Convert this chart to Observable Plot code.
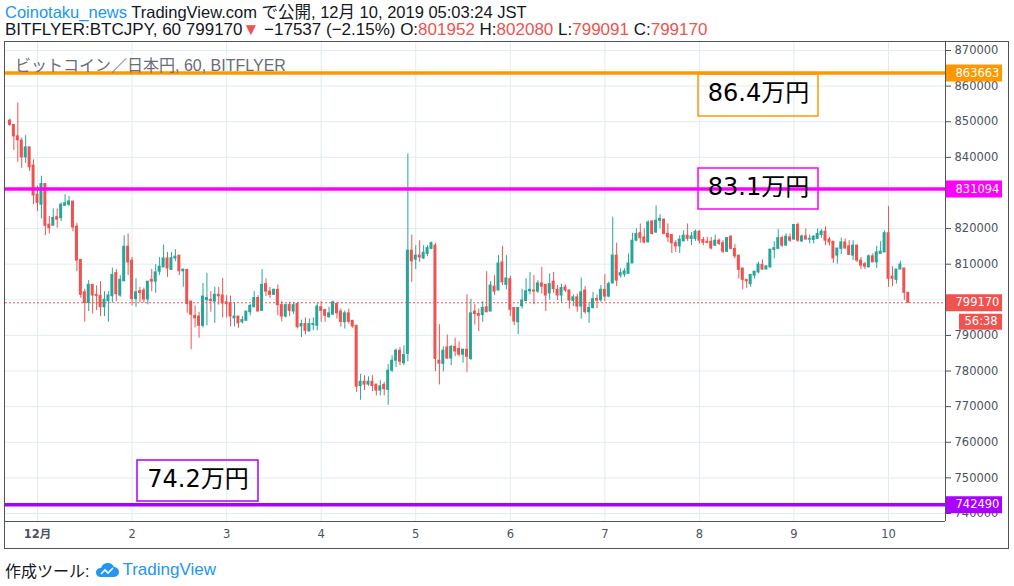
<!DOCTYPE html>
<html><head><meta charset="utf-8">
<script src="https://cdn.jsdelivr.net/npm/d3@7"></script>
<script src="https://cdn.jsdelivr.net/npm/@observablehq/plot@0.6"></script>
<style>
html,body{margin:0;padding:0;background:#fff;}
body{width:1014px;height:586px;position:relative;overflow:hidden;font-family:"Liberation Sans","Noto Sans CJK JP",sans-serif;color:#131722;}
#hdr{position:absolute;left:5px;top:3px;font-size:16.5px;line-height:18px;white-space:nowrap;}
#hdr .l2{font-size:17px;}
#hdr .blue{color:#2196f3;} #hdr .red{color:#ef5350;}
#chart{position:absolute;left:0;top:40px;}
#outer{position:absolute;left:4px;top:41px;width:1003px;height:506px;border:1px solid #50535e;pointer-events:none;}
#legend{position:absolute;left:15px;top:52px;font-size:16px;color:#6a6d78;white-space:nowrap;}
#footer{position:absolute;left:5px;top:558px;font-size:16px;white-space:nowrap;display:flex;align-items:center;}
#footer .tv{color:#2196f3;font-size:17px;margin-left:2px;}
</style></head>
<body>
<div id="hdr">
<div><span class="blue">Coinotaku_news</span> TradingView.com で公開, 12月 10, 2019 05:03:24 JST</div>
<div class="l2">BITFLYER:BTCJPY, 60 799170<span class="red">▼</span> −17537 (−2.15%) O:<span class="red">801952</span> H:<span class="red">802080</span> L:<span class="red">799091</span> C:<span class="red">799170</span></div>
</div>
<div id="chart"></div>
<div id="outer"></div>
<div id="legend">ビットコイン／日本円, 60, BITFLYER</div>
<div id="footer">作成ツール: <svg width="26" height="16" viewBox="0 0 26 16" style="margin-left:5px"><path d="M6 15 H20 A5 5 0 0 0 20 5 A7 7 0 0 0 7 6 A4.5 4.5 0 0 0 6 15 Z" fill="#2196f3"/><polyline points="7,12 11,8 14,11 19,6" fill="none" stroke="#fff" stroke-width="1.6"/></svg><span class="tv">TradingView</span></div>
<script>
// ---- data (BTC/JPY, bitFlyer, 60-minute candles, JST) ----
const firstCandle = Date.UTC(2019, 10, 30, 17); // 2019-11-30 17:00 JST (wall clock)
const open = [850300,849100,845900,844700,840000,842800,837700,829500,826700,832500,821100,820800,823200,822900,826400,826700,827600,820500,811200,802100,799100,804200,801400,801100,797900,799600,801000,807500,801200,805200,814900,811000,800200,802400,802600,800100,805600,805100,807900,809100,811600,808400,811600,812400,808000,808400,799500,795500,795300,792700,799900,800000,799500,801400,801200,799300,799100,794800,795300,793700,794100,796500,797900,800500,796900,804400,802300,801400,802800,798500,795300,798500,796700,798800,792500,793200,791100,792900,792700,797900,797100,795100,795800,798800,796700,793700,796200,794100,792700,775800,777000,776200,777000,776200,774500,776100,774700,780100,782900,785700,782200,784800,813800,811300,812400,811600,812900,814300,815200,782900,782000,786600,783500,786800,786200,784600,786000,783400,796700,796000,795700,797900,796700,803700,802600,810500,804200,805800,797700,793700,798200,799600,802400,802600,802300,804600,804200,801800,805100,802800,801200,803500,802600,799700,800700,798100,802600,796500,797700,800200,799900,802800,800900,804600,812400,806800,807100,807300,810200,816600,818700,817500,816100,822000,818900,822200,822500,818500,818200,815900,815000,816400,818000,817100,817100,819100,816800,816300,816300,815200,816600,815900,813500,817700,814300,812400,808800,805600,804400,806800,807700,809800,808500,809100,814000,814300,817300,815200,817500,816900,821000,816400,817800,816900,816800,817100,818200,819100,816900,816300,812400,814300,816100,815000,812400,815200,811000,810000,809100,812200,810500,812900,813300,818700,806500,805600,808500,808800,801952];
const high = [850800,849100,855300,845400,846100,842800,839300,831900,834700,832500,823400,825500,825500,827200,829500,829000,827600,821500,811200,803000,805400,804200,803900,805100,802300,802300,808900,808500,806800,818000,818500,811900,805900,803500,803300,805100,808500,809900,811900,815400,813300,813300,814100,812400,808500,808400,799500,798300,796500,804600,807400,802300,803500,803500,806000,801200,801000,799000,795300,795300,796700,798600,802300,801200,808500,805900,803500,803000,804200,799500,798800,799300,799300,799300,794300,794900,794600,794900,799000,799500,797400,797900,799600,799300,797400,796900,797400,794100,792700,779100,778700,778400,778700,776200,777300,776800,781800,784300,786200,786600,787100,841000,818200,815200,816600,815200,815200,816200,815900,793000,786800,790100,787100,789200,788200,786000,801400,800100,798600,797400,799500,807900,805100,806800,812400,815000,812400,806600,797700,797700,803000,805900,807700,806800,805400,809100,804200,807300,807700,804000,804400,804200,802800,801400,801600,806100,803700,799300,802100,801400,804000,807100,805000,823200,815900,808700,808700,812900,818700,819900,821300,819900,822200,822200,826400,823900,822700,821300,818200,816600,818000,819400,821300,818900,819600,819400,817500,817500,817500,818200,817100,816600,817500,818000,815500,812400,808800,805600,807000,807900,810600,811200,809400,814100,816300,819700,817900,818500,818500,821000,821600,818200,819900,818200,818000,819900,819700,820500,817500,816300,814400,817300,817100,816600,816600,815400,811900,810500,812600,812900,815000,816300,819400,826200,809300,808500,810800,808800,802080];
const low = [848700,841900,838600,836900,838300,836000,826700,824800,822700,818000,818500,820800,820100,822000,826400,826200,819100,807900,800400,793700,796700,796000,797000,795300,795300,793700,799100,799500,800700,805200,806800,798300,797900,799100,799100,798600,802300,801800,806800,809100,806300,808400,810700,806800,803500,796200,786000,792100,789200,792100,792700,796500,793400,798500,794900,794900,792400,792400,792000,793200,794100,795500,797900,796700,796900,800900,800400,801200,795500,793800,794900,795300,795800,791800,789400,790100,791100,791300,791300,793700,793700,794900,795800,794600,792300,791800,793200,792000,774000,771800,774500,775700,774200,773000,773000,773000,770400,779600,781000,781500,781500,782600,804900,808500,810500,811300,812100,814100,779800,776100,779800,783200,781500,784000,784000,782200,779600,782900,792900,791100,793700,796500,796700,801200,802600,804000,802800,795300,792700,790200,797400,799600,801400,798600,801800,801600,796700,799900,801800,799800,799300,802100,797400,798100,796500,794600,796000,793400,797400,797500,799300,799500,800600,804400,803700,806100,806300,807300,810200,816300,815900,815700,816100,818200,818700,819900,818200,816100,813000,813300,813000,816300,816400,815200,816400,815700,815200,815700,814000,814900,815200,813000,813300,814000,811500,805800,802800,803200,803500,805800,807300,808200,808500,808900,811500,814100,814700,815200,816100,816900,816100,816100,816900,815700,815700,817100,817300,815200,815100,810200,810000,812700,814300,812600,811000,810500,808500,808500,809100,810500,808800,812900,813300,803500,803700,804400,808500,799800,799091];
const close = [849100,845900,844800,840000,842800,837200,829300,827200,832500,820800,820100,823000,822500,826700,827100,827600,820300,811000,801400,799100,804200,801200,801100,797900,800000,801200,807000,801600,805600,814900,810500,800200,802100,801900,800100,805100,805100,807700,809300,811600,808800,811700,812100,808000,808500,798800,795800,794800,792700,800900,800500,799700,801400,801000,799000,798800,795300,795300,793400,794300,796700,798300,800500,796700,804200,802300,801400,802800,798500,795300,798500,796900,798500,792300,793200,791300,793200,793200,798100,796900,795500,796200,799300,796200,793800,796200,793800,792500,775600,777000,776200,777000,775800,774500,775700,774900,780100,782900,785700,782600,784500,813800,810800,812400,811900,813200,814500,815900,783400,782100,785700,783500,786800,785500,784600,786000,784000,796200,796000,795500,797700,796500,804000,802300,810200,804900,806000,797200,793900,797700,799800,802400,802800,802300,804600,803700,801200,804400,803000,801200,803300,802600,799800,800700,798100,802100,796500,797700,800200,799800,802800,800900,804400,812400,805400,807500,808000,810200,816600,818500,817300,816100,821700,818500,822200,822700,818500,817500,815900,815000,816900,818000,817100,817800,819100,816600,816000,816000,814400,816600,815700,813500,817300,814300,812200,808400,805600,805200,807000,807900,809900,808500,809400,814100,814500,817300,815200,817700,816600,821000,816600,817800,816900,817100,817700,818500,819100,816600,816100,811600,814400,816100,814400,812600,815200,811000,809600,809300,812200,810500,813300,813500,818700,805900,805900,808500,809900,801952,799170];

// horizontal support / resistance levels and their notes
const levelPrices = [863663, 831094, 742490];
const levelNotes = ["86.4万円", "83.1万円", "74.2万円"];
const lastPrice = 799170;
const countdown = "56:38";

// axis ticks (labels hidden by the price boxes are left out, as in the source)
const yTicks = d3.range(740000, 870001, 10000);
const yTickLabels = [740000, 750000, 760000, 770000, 780000, 790000, 810000, 820000, 840000, 850000, 860000, 870000];
const dayTicks = d3.range(1, 11).map(d => new Date(Date.UTC(2019, 11, d)));
const dayLabels = ["12月", "2", "3", "4", "5", "6", "7", "8", "9", "10"];

// ---- styles / layout ----
const UP = "#26a69a", DOWN = "#ef5350";
const levelColors = ["#ff9800", "#ff00ff", "#aa00ff"];
const H = 3600e3;
const D0 = Date.UTC(2019, 11, 1);
const xAt = px => new Date(D0 + ((px - 37) / 3.94) * H);          // page x -> time
const priceAt = py => 870000 - (py - 50) * 130000 / 463;          // page y -> price
const noteBoxes = [                                              // [x1,x2,y1,y2] in page px
  [698, 818, 74, 116], [698, 818, 168, 209], [137, 258, 460, 501]
];

const candles = open.map((o, i) => ({
  t: new Date(firstCandle + i * H), open: o, high: high[i], low: low[i], close: close[i]
}));
const col = d => d.close >= d.open ? UP : DOWN;

const levels = levelPrices.map((p, i) => ({p, note: levelNotes[i], c: levelColors[i], box: noteBoxes[i]}));

const chart = Plot.plot({
  width: 1014, height: 510,
  marginLeft: 5, marginRight: 69, marginTop: 2, marginBottom: 29,
  style: {fontFamily: "'DejaVu Sans','Noto Sans CJK JP',sans-serif", background: "transparent", overflow: "visible"},
  x: {type: "utc", domain: [xAt(5), xAt(945)], label: null},
  y: {domain: [priceAt(521), priceAt(42)], label: null},
  color: {type: "identity"},
  marks: [
    Plot.gridX(dayTicks, {stroke: "#e1ecf2", strokeOpacity: 1}),
    Plot.gridY(yTicks, {stroke: "#e1ecf2", strokeOpacity: 1}),
    // candles
    Plot.ruleX(candles, {x: "t", y1: "low", y2: "high", stroke: col, strokeWidth: 1}),
    Plot.rect(candles, {
      x1: d => new Date(+d.t - 0.38 * H), x2: d => new Date(+d.t + 0.38 * H),
      y1: "open", y2: "close", fill: col, insetTop: -0.5, insetBottom: -0.5
    }),
    // level lines
    Plot.ruleY(levels, {y: "p", stroke: "c", strokeWidth: 3.5}),
    Plot.ruleY([lastPrice], {stroke: DOWN, strokeWidth: 1, strokeDasharray: "2,2"}),
    // note boxes
    Plot.rect(levels, {x1: d => xAt(d.box[0]), x2: d => xAt(d.box[1]), y1: d => priceAt(d.box[2]), y2: d => priceAt(d.box[3]),
      fill: "none", stroke: "c", strokeWidth: 1.5}),
    Plot.text(levels, {x: d => xAt((d.box[0] + d.box[1]) / 2), y: d => priceAt((d.box[2] + d.box[3]) / 2 - 2),
      text: "note", fontSize: 24, fill: "#000", textAnchor: "middle",
      fontFamily: "'DejaVu Sans','Noto Sans CJK JP',sans-serif"}),
    // frame lines (right & bottom)
    Plot.ruleX([xAt(945)], {stroke: "#50535e"}),
    Plot.ruleY([priceAt(521)], {stroke: "#50535e"}),
    // axes
    Plot.axisY(yTicks, {anchor: "right", tickSize: 5, tickPadding: 4, label: null,
      tickFormat: d => yTickLabels.includes(d) ? d3.format("d")(d) : "",
      fontSize: 11.5, color: "#4c525e"}),
    Plot.axisX(dayTicks.slice(0, 1), {anchor: "bottom", tickSize: 0, tickPadding: 8, fontSize: 11.5, label: null,
      tickFormat: () => dayLabels[0], fontWeight: "bold", color: "#4c525e"}),
    Plot.axisX(dayTicks.slice(1), {anchor: "bottom", tickSize: 0, tickPadding: 8, fontSize: 11.5, label: null,
      tickFormat: (d, i) => dayLabels[i + 1], color: "#4c525e"}),
    // price labels on the axis
    Plot.ruleY(levels, {y: "p", x1: xAt(946), x2: xAt(1002), stroke: "c", strokeWidth: 17}),
    Plot.text(levels, {y: "p", x: xAt(955), text: d => String(d.p), fill: "#fff", textAnchor: "start", fontSize: 11.5}),
    Plot.ruleY([lastPrice], {x1: xAt(946), x2: xAt(1002), stroke: DOWN, strokeWidth: 17}),
    Plot.text([lastPrice], {y: d => d, x: xAt(955), text: d => String(d), fill: "#fff", textAnchor: "start", fontSize: 11.5}),
    Plot.ruleY([lastPrice], {x1: xAt(959), x2: xAt(1002), stroke: DOWN, strokeWidth: 16, dy: 19}),
    Plot.text([countdown], {y: lastPrice, x: xAt(964), text: d => d, fill: "#fff", textAnchor: "start", fontSize: 11.5, dy: 19})
  ]
});
document.getElementById("chart").append(chart);
</script>
</body></html>
